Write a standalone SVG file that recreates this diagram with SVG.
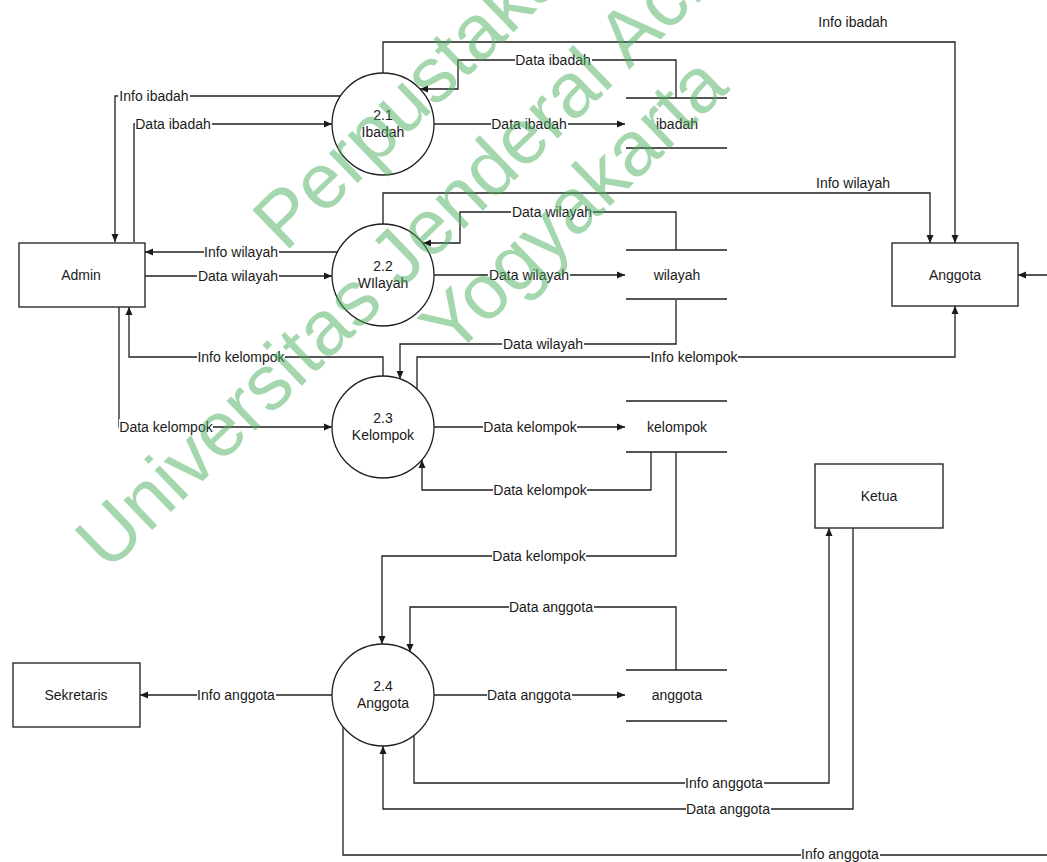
<svg xmlns="http://www.w3.org/2000/svg" width="1047" height="862" viewBox="0 0 1047 862">
<defs>
<marker id="arr" markerWidth="9" markerHeight="8" refX="8" refY="4" orient="auto" markerUnits="userSpaceOnUse">
<path d="M0,0.5 L8,4 L0,7.5 z" fill="#1a1a1a"/>
</marker>
<style>
.ln{fill:none;stroke:#1f1f1f;stroke-width:1.3;marker-end:url(#arr)}
.st{fill:none;stroke:#1f1f1f;stroke-width:1.3}
.box{fill:#fff;stroke:#2a2a2a;stroke-width:1.4}
.prc{fill:#fff;stroke:#1f1f1f;stroke-width:1.3}
text{font-family:"Liberation Sans",Arial,sans-serif;font-size:14px;fill:#1a1a1a;text-anchor:middle}
.bg{fill:#fff}
.wm{font-family:"Liberation Sans",Arial,sans-serif;font-size:78px;fill:#4baf5f;fill-opacity:0.5;text-anchor:middle}
</style>
</defs>
<rect width="1047" height="862" fill="#fff"/>

<g id="connectors">
<path class="ln" d="M340,96 H115 V242"/>
<path class="ln" d="M134,242 V124 H332"/>
<path class="ln" d="M383,73 V42 H955 V243"/>
<path class="ln" d="M676,98 V60 H458 V89 H420"/>
<path class="ln" d="M434,124 H625"/>
<path class="ln" d="M338,252 H145"/>
<path class="ln" d="M145,276 H332"/>
<path class="ln" d="M383,224 V193 H930 V243"/>
<path class="ln" d="M676,250 V212 H460 V243 H423"/>
<path class="ln" d="M434,275 H625"/>
<path class="ln" d="M676,300 V344 H400 V379"/>
<path class="ln" d="M383,376 V357 H129 V307"/>
<path class="ln" d="M417,389 V357 H955 V306"/>
<path class="ln" d="M119,307 V427 H332"/>
<path class="ln" d="M434,427 H625"/>
<path class="ln" d="M651,452 V490 H422 V460"/>
<path class="ln" d="M676,452 V556 H382 V644"/>
<path class="ln" d="M676,670 V607 H410 V652"/>
<path class="ln" d="M332,695 H140"/>
<path class="ln" d="M434,695 H625"/>
<path class="ln" d="M414,736 V783 H829 V528"/>
<path class="ln" d="M853,528 V809 H383 V746"/>
<path class="ln" d="M343,727 V855 H1060 V275 H1018"/>

<g id="labels">
<rect class="bg" x="118" y="88" width="72" height="16"/><text x="154" y="101">Info ibadah</text>
<rect class="bg" x="135" y="116" width="77" height="16"/><text x="173" y="129">Data ibadah</text>
<text x="853" y="27">Info ibadah</text>
<rect class="bg" x="515" y="52" width="77" height="16"/><text x="553" y="65">Data ibadah</text>
<rect class="bg" x="491" y="116" width="77" height="16"/><text x="529" y="129">Data ibadah</text>
<rect class="bg" x="204" y="244" width="75" height="16"/><text x="241" y="257">Info wilayah</text>
<rect class="bg" x="197" y="268" width="82" height="16"/><text x="238" y="281">Data wilayah</text>
<text x="853" y="188">Info wilayah</text>
<rect class="bg" x="511" y="204" width="82" height="16"/><text x="552" y="217">Data wilayah</text>
<rect class="bg" x="488" y="267" width="82" height="16"/><text x="529" y="280">Data wilayah</text>
<rect class="bg" x="502" y="336" width="82" height="16"/><text x="543" y="349">Data wilayah</text>
<rect class="bg" x="197" y="349" width="88" height="16"/><text x="241" y="362">Info kelompok</text>
<rect class="bg" x="650" y="349" width="88" height="16"/><text x="694" y="362">Info kelompok</text>
<rect class="bg" x="119" y="419" width="94" height="16"/><text x="166" y="432">Data kelompok</text>
<rect class="bg" x="483" y="419" width="94" height="16"/><text x="530" y="432">Data kelompok</text>
<rect class="bg" x="493" y="482" width="94" height="16"/><text x="540" y="495">Data kelompok</text>
<rect class="bg" x="492" y="548" width="94" height="16"/><text x="539" y="561">Data kelompok</text>
<rect class="bg" x="509" y="599" width="85" height="16"/><text x="551" y="612">Data anggota</text>
<rect class="bg" x="197" y="687" width="79" height="16"/><text x="236" y="700">Info anggota</text>
<rect class="bg" x="487" y="687" width="85" height="16"/><text x="529" y="700">Data anggota</text>
<rect class="bg" x="685" y="775" width="79" height="16"/><text x="724" y="788">Info anggota</text>
<rect class="bg" x="686" y="801" width="85" height="16"/><text x="728" y="814">Data anggota</text>
<rect class="bg" x="801" y="847" width="79" height="15"/><text x="840" y="859">Info anggota</text>
</g>
</g>

<g id="admin"><rect class="box" x="19" y="243" width="126" height="64"/><text x="81" y="280">Admin</text></g>
<g id="anggota-ent"><rect class="box" x="892" y="243" width="126" height="63"/><text x="955" y="280">Anggota</text></g>
<g id="ketua"><rect class="box" x="815" y="464" width="128" height="64"/><text x="879" y="501">Ketua</text></g>
<g id="sekretaris"><rect class="box" x="13" y="663" width="127" height="64"/><text x="76" y="700">Sekretaris</text></g>

<g id="p21"><circle class="prc" cx="383" cy="124" r="51"/><text x="383" y="120">2.1</text><text x="383" y="137">Ibadah</text></g>
<g id="p22"><circle class="prc" cx="383" cy="275" r="51"/><text x="383" y="271">2.2</text><text x="383" y="288">WIlayah</text></g>
<g id="p23"><circle class="prc" cx="383" cy="427" r="51"/><text x="383" y="423">2.3</text><text x="383" y="440">Kelompok</text></g>
<g id="p24"><circle class="prc" cx="383" cy="695" r="51"/><text x="383" y="691">2.4</text><text x="383" y="708">Anggota</text></g>

<g id="ds-ibadah"><path class="st" d="M626,98 H727 M626,148 H727"/><text x="677" y="129">ibadah</text></g>
<g id="ds-wilayah"><path class="st" d="M626,250 H727 M626,299 H727"/><text x="677" y="280">wilayah</text></g>
<g id="ds-kelompok"><path class="st" d="M626,401 H727 M626,452 H727"/><text x="677" y="432">kelompok</text></g>
<g id="ds-anggota"><path class="st" d="M626,670 H727 M626,721 H727"/><text x="677" y="700">anggota</text></g>

<g id="watermark" transform="rotate(-44)">
<text class="wm" x="270" y="380">Perpustakaan</text>
<text class="wm" x="270" y="487">Universitas Jenderal Achmad Yani</text>
<text class="wm" x="270" y="572">Yogyakarta</text>
</g>
</svg>
